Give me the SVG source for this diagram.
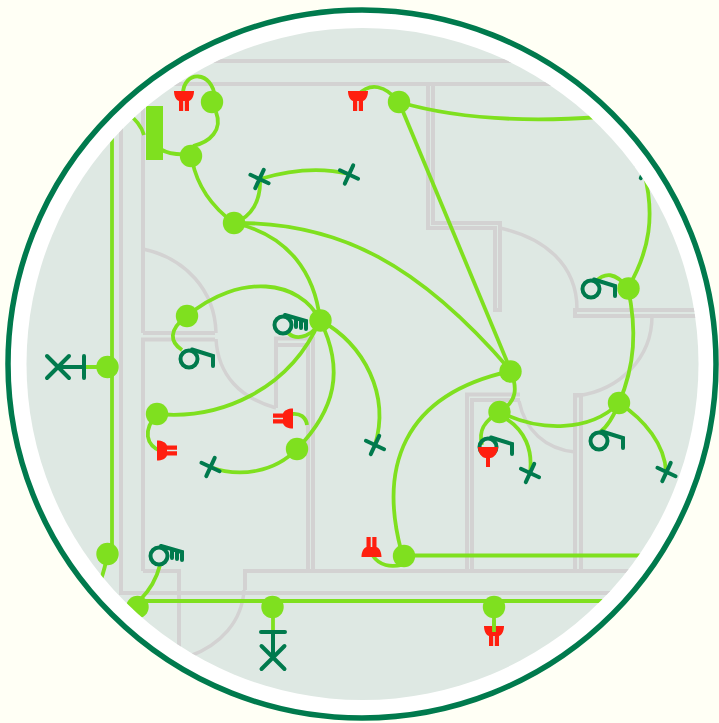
<svg xmlns="http://www.w3.org/2000/svg" xmlns:xlink="http://www.w3.org/1999/xlink" width="719" height="723" viewBox="0 0 719 723">
<style>
.wall{fill:none;stroke:#d3d2d2;stroke-width:4}
.door{fill:none;stroke:#d3d2d2;stroke-width:3.500}
.wire{fill:none;stroke:#7fe01f;stroke-width:3.800}
.dev{fill:none;stroke:#007a4d;stroke-width:4;stroke-linecap:round;stroke-linejoin:miter}
.red{fill:#ff1f0f}
.node{fill:#7fe01f}
</style>
<defs>
<clipPath id="disc"><circle cx="362.5" cy="364" r="336"/></clipPath>
<g id="cross" class="dev"><path d="M-10,0H10M0,-10V10"/></g>
<g id="six" class="dev"><circle cx="0" cy="0" r="8.5"/><path d="M3,-9.500L24,-3V7"/></g>
<g id="key" class="dev"><circle cx="0" cy="0" r="8.500"/><path d="M2,-10L23,-4V4M18,-5V3M13,-6V2"/></g>
<g id="lamp"><path class="red" d="M-10,0H10C10,5 8,9 5,10V20H0.800V10H-0.800V20H-5V10C-8,9 -10,5 -10,0Z"/></g>
</defs>
<rect id="background" width="719" height="723" fill="#fffff5"/>
<circle id="ring" cx="362" cy="364" r="354" fill="#fff" stroke="#007a4d" stroke-width="5.500"/>
<circle id="floor" cx="362.5" cy="364" r="336" fill="#dee8e3"/>
<g clip-path="url(#disc)">
<g id="walls">
<path class="wall" d="M121,61H720M121,61V593H720"/>
<path class="wall" d="M143,333V84H720"/>
<path class="wall" d="M143,333H215M143,571V339.500H215M143,571H179V655"/>
<path class="wall" d="M245,590V571H720"/>
<path class="wall" d="M276,408V338.500H313V571M276,345H308V571"/>
<path class="wall" d="M428,84V228H495V310H500V223H433V84"/>
<path class="wall" d="M652,316H575V310H720M575,316H720"/>
<path class="wall" d="M467,571V394.500H520M472,571V400H520"/>
<path class="wall" d="M575,571V395H581V571"/>
<path class="door" d="M143,249C185,258 215,290 216,333M216,339C218,375 240,398 276,408"/>
<path class="door" d="M500,228C545,238 577,265 577,309"/>
<path class="door" d="M652,316C652,358 620,390 577,396"/>
<path class="door" d="M519,401C525,430 545,449 575,452"/>
<path class="door" d="M244,590C242,622 220,645 190,656"/>
</g>
<g id="connectors">
<path class="wire" d="M112,120V548"/>
<path class="wire" d="M107,554Q106,566 100,582"/>
<path class="wire" d="M144,135Q140,122 128,114"/>
<path class="wire" d="M160,149Q172,156 191,154"/>
<path class="wire" d="M216,112C223,130 210,142 193,146"/>
<path class="wire" d="M215,98C213,70 183,70 183,94"/>
<path class="wire" d="M192,160C197,185 212,207 234,223"/>
<path class="wire" d="M234,223C252,217 261,200 260,179"/>
<path class="wire" d="M260,179C290,170 320,167 349,174"/>
<path class="wire" d="M234,223C290,235 315,275 320,320"/>
<path class="wire" d="M234,223C340,222 420,265 511,371"/>
<path class="wire" d="M399,102L511,371"/>
<path class="wire" d="M358,95C370,82 385,85 399,102"/>
<path class="wire" d="M399,102C460,120 530,122 600,117"/>
<path class="wire" d="M628,288C650,250 655,215 644,172"/>
<path class="wire" d="M187,316C240,272 300,280 320,320"/>
<path class="wire" d="M187,316C168,330 170,342 182,350"/>
<path class="wire" d="M320,320C315,335 298,342 288,333"/>
<path class="wire" d="M320,320C290,390 220,420 157,414"/>
<path class="wire" d="M320,320C345,370 335,410 297,449"/>
<path class="wire" d="M297,449C275,472 240,478 210,467"/>
<path class="wire" d="M320,320C365,345 390,395 375,445"/>
<path class="wire" d="M157,414C143,430 145,445 162,452"/>
<path class="wire" d="M292,414C300,413 306,417 307,425"/>
<path class="wire" d="M107,367H84"/>
<path class="wire" d="M273,607V633"/>
<path class="wire" d="M138,601H720"/>
<path class="wire" d="M140,600Q155,585 160,565"/>
<path class="wire" d="M494,607V632"/>
<path class="wire" d="M404,555.500H720"/>
<path class="wire" d="M373,556C380,566 390,567 402,565"/>
<path class="wire" d="M401,550C380,470 400,395 511,371"/>
<path class="wire" d="M511,371C518,390 515,400 505,408"/>
<path class="wire" d="M500,412C485,420 478,430 482,445"/>
<path class="wire" d="M505,418C525,430 533,450 530,473"/>
<path class="wire" d="M500,412C540,432 590,432 619,403"/>
<path class="wire" d="M619,403C635,365 637,330 628,288"/>
<path class="wire" d="M619,403Q610,425 600,432"/>
<path class="wire" d="M619,403C645,420 665,445 666,472"/>
<path class="wire" d="M628,288C615,272 605,272 595,282"/>
</g>
<g id="panel"><rect x="146" y="106" width="17" height="54" fill="#7fe01f"/></g>
<g id="switches">
<use xlink:href="#cross" transform="translate(259.500,179) rotate(25)"/>
<use xlink:href="#cross" transform="translate(349,174.500) rotate(25)"/>
<use xlink:href="#cross" transform="translate(375,445) rotate(25)"/>
<use xlink:href="#cross" transform="translate(210.500,467) rotate(25)"/>
<use xlink:href="#cross" transform="translate(530,473) rotate(25)"/>
<use xlink:href="#cross" transform="translate(666.500,472) rotate(25)"/>
<use xlink:href="#cross" transform="translate(645,169) rotate(25)"/>
<use xlink:href="#six" transform="translate(189,359)"/>
<use xlink:href="#six" transform="translate(488,447)"/>
<use xlink:href="#six" transform="translate(599,441)"/>
<use xlink:href="#six" transform="translate(591,289)"/>
<use xlink:href="#key" transform="translate(283,325)"/>
<use xlink:href="#key" transform="translate(159,556)"/>
<path class="dev" d="M84,356V378M84,367H58M47,356L69,378M69,356L47,378"/>
<path class="dev" d="M261,632H285M273,632V657M261.500,646L284.500,669M284.500,646L261.500,669"/>
</g>
<g id="lamps">
<use xlink:href="#lamp" transform="translate(184,91)"/>
<use xlink:href="#lamp" transform="translate(358,91)"/>
<use xlink:href="#lamp" transform="translate(494,626)"/>
<use xlink:href="#lamp" transform="translate(371.500,557) rotate(180)"/>
<use xlink:href="#lamp" transform="translate(157,450.500) rotate(-90)"/>
<use xlink:href="#lamp" transform="translate(293,418.500) rotate(90)"/>
<path class="red" d="M478,447H498C498,453 494,458 490,458V467H486V458C482,458 478,453 478,447Z"/>
</g>
<path class="wire" d="M494,620V632"/>
<g id="n1"><circle class="node" cx="212" cy="102" r="11.200"/></g>
<g id="n2"><circle class="node" cx="191" cy="156" r="11.200"/></g>
<g id="n3"><circle class="node" cx="234" cy="223" r="11.200"/></g>
<g id="n4"><circle class="node" cx="399" cy="102" r="11.200"/></g>
<g id="n5"><circle class="node" cx="320.500" cy="320.500" r="11.200"/></g>
<g id="n6"><circle class="node" cx="187" cy="316" r="11.200"/></g>
<g id="n7"><circle class="node" cx="157" cy="414" r="11.200"/></g>
<g id="n8"><circle class="node" cx="297" cy="449" r="11.200"/></g>
<g id="n9"><circle class="node" cx="107.500" cy="367" r="11.200"/></g>
<g id="n10"><circle class="node" cx="107.500" cy="554" r="11.200"/></g>
<g id="n11"><circle class="node" cx="137.500" cy="607" r="11.200"/></g>
<g id="n12"><circle class="node" cx="272.500" cy="607" r="11.200"/></g>
<g id="n13"><circle class="node" cx="494" cy="607" r="11.200"/></g>
<g id="n14"><circle class="node" cx="404" cy="556" r="11.200"/></g>
<g id="n15"><circle class="node" cx="510.500" cy="371.500" r="11.200"/></g>
<g id="n16"><circle class="node" cx="499.500" cy="412" r="11.200"/></g>
<g id="n17"><circle class="node" cx="619" cy="403" r="11.200"/></g>
<g id="n18"><circle class="node" cx="628.500" cy="288.500" r="11.200"/></g>
</g>
</svg>
